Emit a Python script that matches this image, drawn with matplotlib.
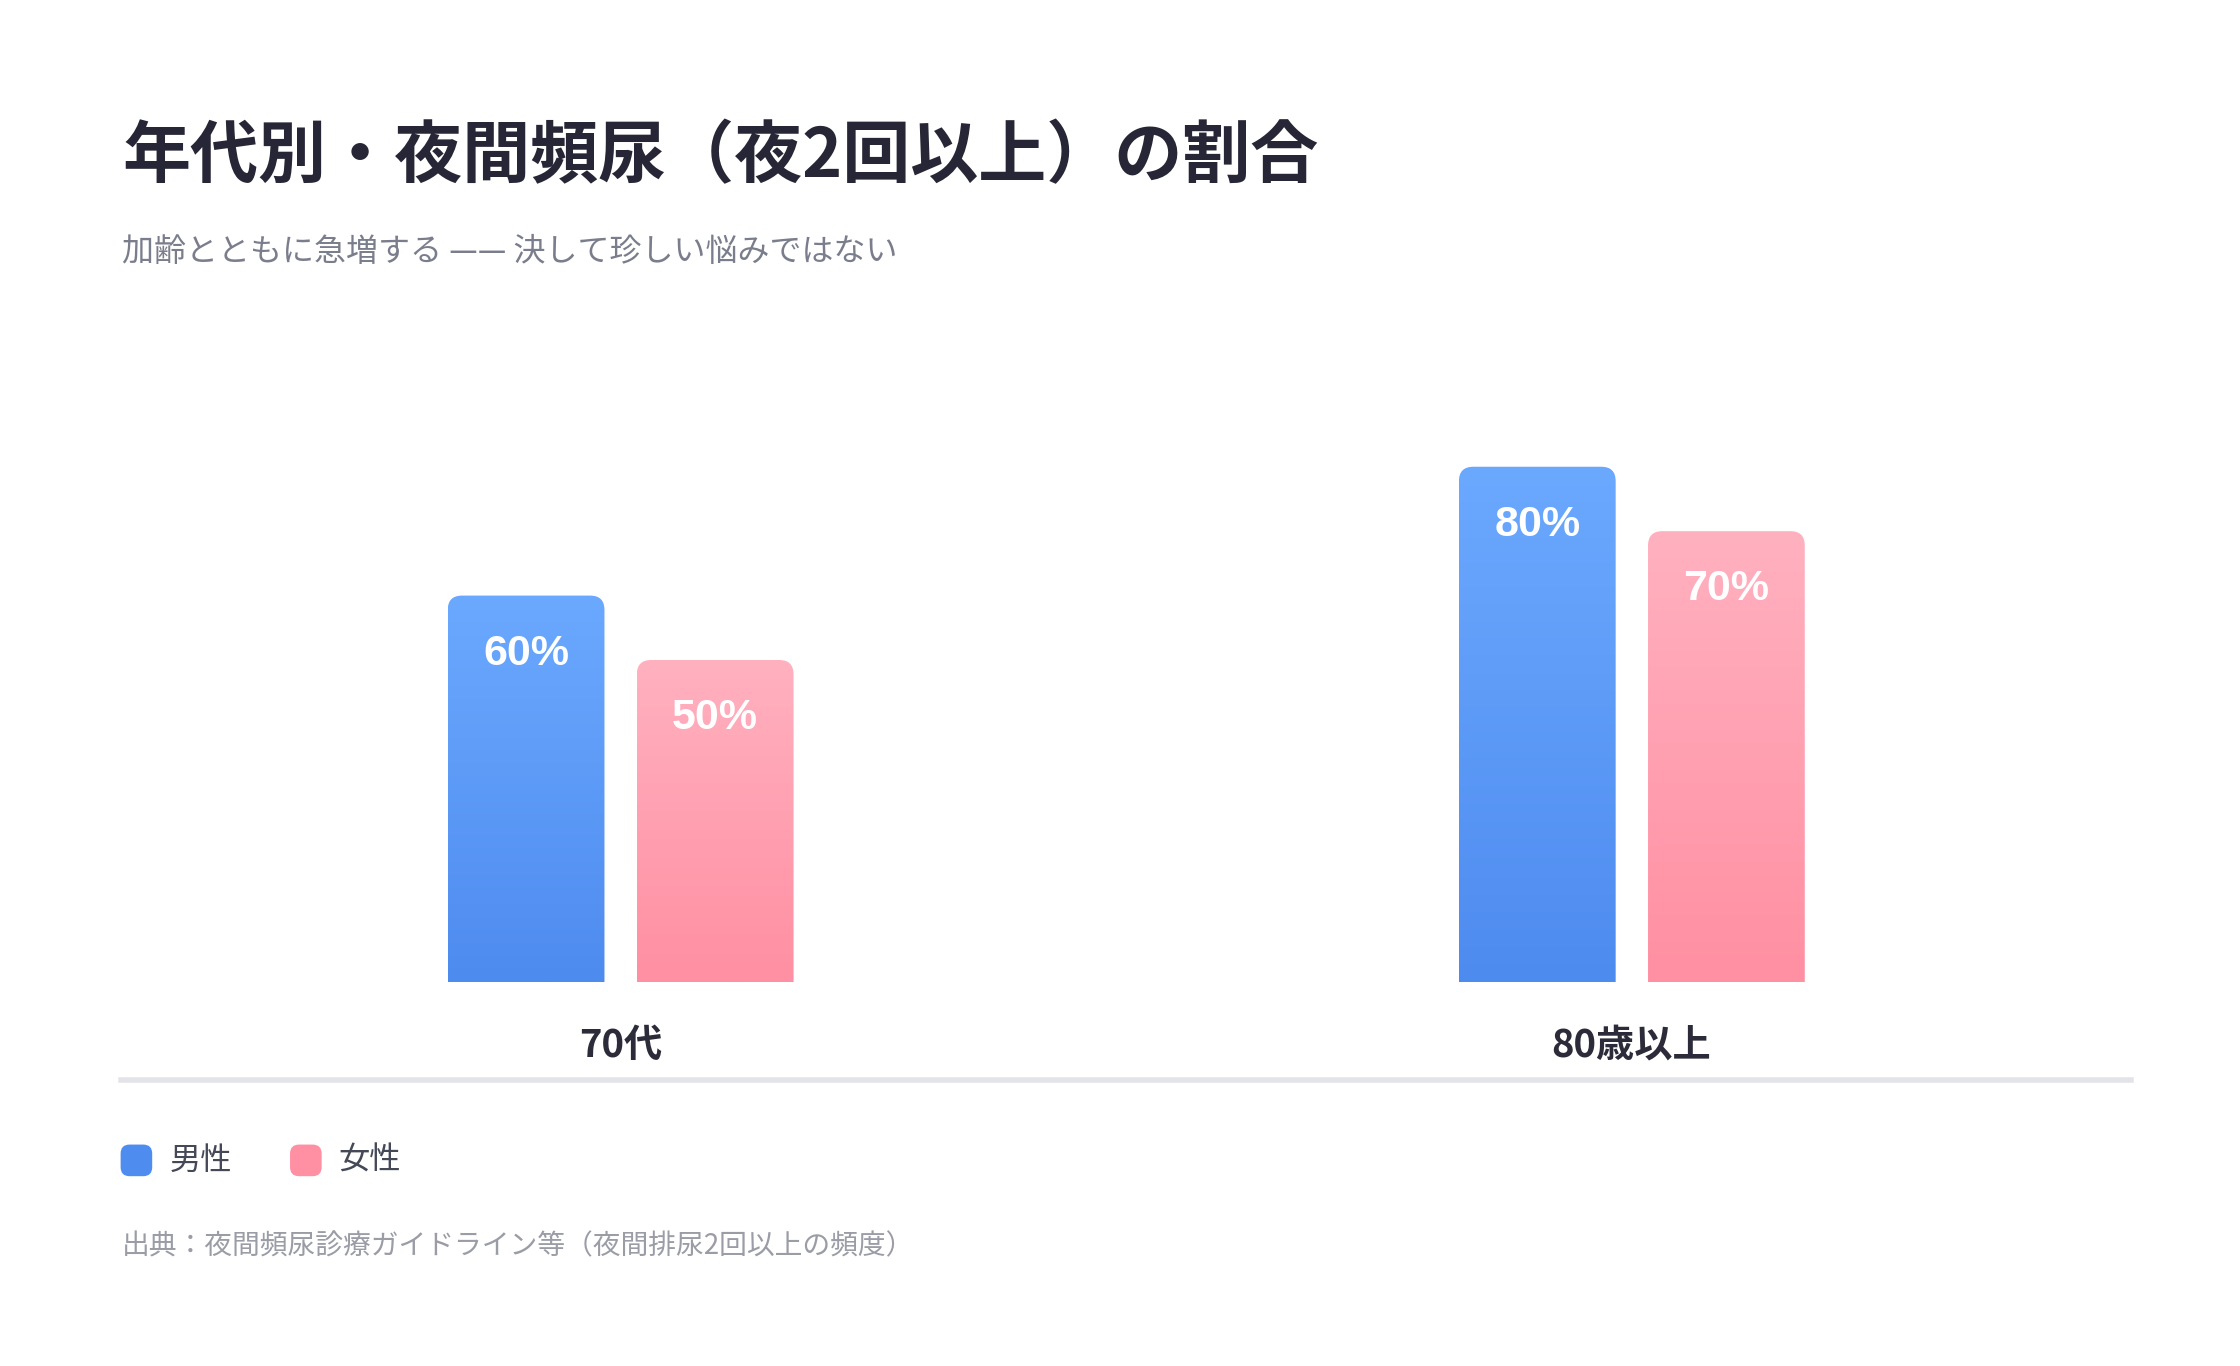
import matplotlib
matplotlib.use("Agg")
import matplotlib.pyplot as plt
import numpy as np
from matplotlib.patches import FancyBboxPatch
from matplotlib.colors import LinearSegmentedColormap

plt.rcParams['font.family'] = ['Noto Sans CJK JP', 'DejaVu Sans']

categories = ['70代', '80歳以上']
series = ['男性', '女性']
male = [60, 80]
female = [50, 70]
colors_top = ['#6ba9ff', '#ffb1c0']
colors_bot = ['#4e8bef', '#ff8fa2']
legend_colors = ['#4f8cf0', '#ff8fa3']

W, H = 1560, 950
fig = plt.figure(figsize=(22.4, 13.66), dpi=100)
fig.patch.set_facecolor('white')

def fx(x): return x / W
def fy(y): return 1 - y / H

ax = fig.add_axes([fx(84), fy(683), fx(1400), 448 / H])
ax.set_xlim(-0.494, 1.494)
ax.set_ylim(0, 100)
ax.axis('off')

bw = 0.155
offs = [-0.093, 0.094]
for s, vals in enumerate([male, female]):
    cmap = LinearSegmentedColormap.from_list('g', [colors_bot[s], colors_top[s]])
    for i, v in enumerate(vals):
        x0 = i + offs[s] - bw / 2
        patch = FancyBboxPatch((x0, -10), bw, v + 10,
                               boxstyle="round,pad=0,rounding_size=0.0142",
                               mutation_aspect=157, fc='none', ec='none')
        ax.add_patch(patch)
        grad = np.linspace(0, 1, 256).reshape(-1, 1)
        im = ax.imshow(grad, cmap=cmap, origin='lower', aspect='auto',
                       extent=(x0, x0 + bw, 0, v), zorder=2)
        im.set_clip_path(patch)
        ax.text(i + offs[s], v - 9, f'{v}%', ha='center', va='center',
                color='white', fontsize=31, fontweight='bold',
                family=['Liberation Sans', 'DejaVu Sans'], zorder=3)
ax.set_xlim(-0.494, 1.494)
ax.set_ylim(0, 100)

for i, c in enumerate(categories):
    fig.text(fx([432, 1136][i]), fy(727), c, ha='center', va='center',
             fontsize=27.5, fontweight='bold', color='#2b2b3a')

fig.add_artist(plt.Line2D([fx(84), fx(1484)], [fy(751), fy(751)],
                          color='#e3e4ea', lw=4))

fig.text(fx(85), fy(110), '年代別・夜間頻尿（夜2回以上）の割合', ha='left', va='center',
         fontsize=49, fontweight='bold', color='#262636')
fig.text(fx(85), fy(175), '加齢とともに急増する —— 決して珍しい悩みではない', ha='left',
         va='center', fontsize=23, color='#7a7d8c')

lx = [84, 202]
for i, s in enumerate(series):
    fig.patches.append(FancyBboxPatch((fx(lx[i]), fy(818)), fx(22), 22 / H,
                       boxstyle="round,pad=0,rounding_size=0.004",
                       mutation_aspect=W / H, transform=fig.transFigure,
                       fc=legend_colors[i], ec='none'))
    fig.text(fx(lx[i] + 34), fy(807), s, ha='left', va='center',
             fontsize=22.5, color='#444857')

fig.text(fx(85), fy(867), '出典：夜間頻尿診療ガイドライン等（夜間排尿2回以上の頻度）',
         ha='left', va='center', fontsize=20, color='#9a9ca6')

fig.savefig('out.png', dpi=100, facecolor='white')
